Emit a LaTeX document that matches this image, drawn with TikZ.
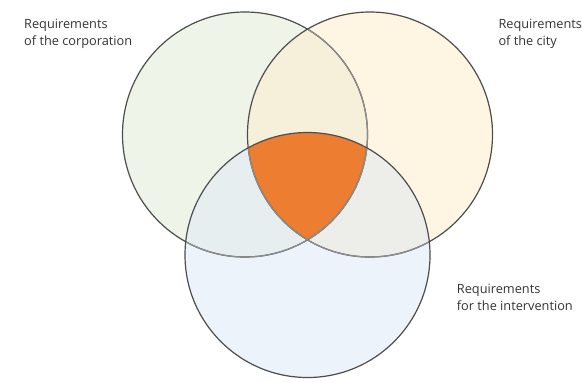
\documentclass[tikz,border=0pt]{standalone}
\usepackage{fontspec}
\setmainfont{Open Sans}
\definecolor{corpfill}{HTML}{EEF5E8}
\definecolor{cityfill}{HTML}{FEF6E2}
\definecolor{intfill}{HTML}{ECF3FA}
\definecolor{corpcity}{HTML}{F6F0DB}
\definecolor{corpint}{HTML}{E6EEEF}
\definecolor{cityint}{HTML}{EDEEEA}
\definecolor{coreorange}{HTML}{ED7D31}
\definecolor{edgedark}{HTML}{4D4D4D}
\definecolor{edgelight}{HTML}{8C8C8C}
\definecolor{labelgray}{HTML}{333333}
\begin{document}
\begin{tikzpicture}[x=1bp,y=-1bp,
  labeltext/.style={anchor=base west, inner sep=0pt, align=left,
    font=\fontsize{12.8}{16.7}\selectfont, text=labelgray},
  edgestrong/.style={draw=edgedark, line width=1.2bp},
  edgesoft/.style={draw=edgelight, line width=1.2bp}]
\useasboundingbox (0,0) rectangle (582,381);
\def\R{122.5}
% circle centres: corporation, city, intervention
\coordinate (cA) at (245,134.5);
\coordinate (cB) at (370,134.5);
\coordinate (cC) at (307.5,255);

% region fills
\fill[corpfill] (cA) circle[radius=\R];
\fill[cityfill] (cB) circle[radius=\R];
\fill[intfill] (cC) circle[radius=\R];
\begin{scope}
  \clip (cB) circle[radius=\R];
  \fill[cityint] (cC) circle[radius=\R];
\end{scope}
\begin{scope}
  \clip (cA) circle[radius=\R];
  \fill[corpcity] (cB) circle[radius=\R];
  \fill[corpint] (cC) circle[radius=\R];
  \clip (cB) circle[radius=\R];
  \fill[coreorange] (cC) circle[radius=\R];
\end{scope}

% outlines: arcs lying under a later circle are softer
\draw[edgestrong] (cA) circle[radius=\R];
\begin{scope}
  \clip (cB) circle[radius=\R];
  \draw[edgesoft] (cA) circle[radius=\R];
\end{scope}
\begin{scope}
  \clip (cC) circle[radius=\R];
  \draw[edgesoft] (cA) circle[radius=\R];
\end{scope}
\draw[edgestrong] (cB) circle[radius=\R];
\begin{scope}
  \clip (cC) circle[radius=\R];
  \draw[edgesoft] (cB) circle[radius=\R];
\end{scope}
\draw[edgestrong] (cC) circle[radius=\R];

% labels (anchored at the baseline of their last line)
\node[labeltext] (corp) at (24,45) {Requirements\\of the corporation};
\node[labeltext] (city) at (498.3,45) {Requirements\\of the city};
\node[labeltext] (interv) at (456.7,310) {Requirements\\for the intervention};
\end{tikzpicture}
\end{document}
